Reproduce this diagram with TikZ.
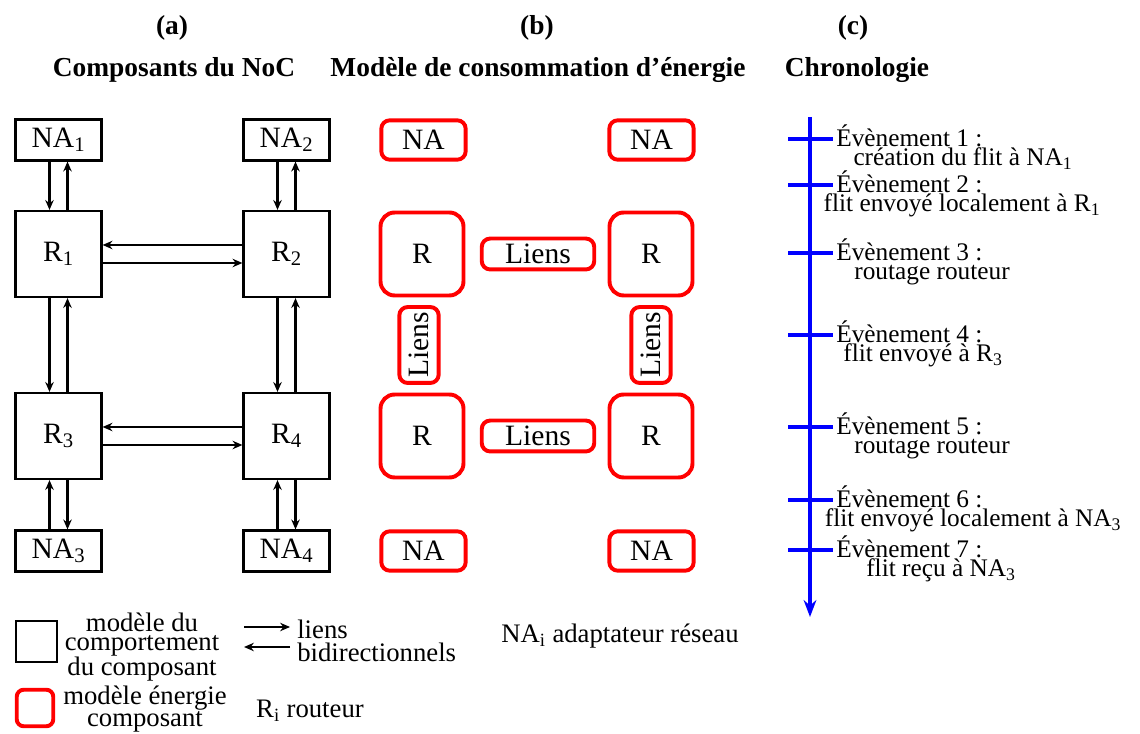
\documentclass[tikz,border=0pt]{standalone}
\usepackage{fontspec}
\setmainfont{Liberation Serif}
\usetikzlibrary{arrows.meta}

\begin{document}
\def\px{0.7113pt}
\begin{tikzpicture}[x=0.025cm,y=-0.025cm,>={Stealth[length=7pt,width=6pt]},
	nabox/.style={draw,line width=1.7pt,minimum width=61pt,minimum height=29pt,inner sep=0pt,font=\fontsize{21}{22}\selectfont},
	rbox/.style={draw,line width=1.7pt,minimum size=61pt,inner sep=0pt,font=\fontsize{21}{22}\selectfont},
	ebox/.style={draw=red,line width=2.8pt,rounded corners=6pt,inner sep=0pt,font=\fontsize{21}{22}\selectfont},
	lien/.style={->,line width=1.6pt},
	titre/.style={font=\fontsize{19.5}{22}\selectfont\bfseries},
	evt/.style={font=\fontsize{18}{20}\selectfont,inner sep=0pt},
	leg/.style={align=center,font=\fontsize{19}{13.5}\selectfont,inner sep=0pt}]
	\useasboundingbox (0,0) rectangle (1140,734);

	% titres
	\node[titre] (ta) at (172,28) {(a)};
	\node[titre] (tb) at (537,28) {(b)};
	\node[titre] (tc) at (853,28) {(c)};
	\node[titre] (sa) at (174,70) {Composants du NoC};
	\node[titre] (sb) at (538,70) {Modèle de consommation d’énergie};
	\node[titre] (sc) at (857,70) {Chronologie};

	% (a) composants
	\node[nabox] (na1) at (58.5,140) {NA\textsubscript{1}};
	\node[nabox] (na2) at (286.5,140) {NA\textsubscript{2}};
	\node[rbox] (r1) at (58.5,254) {R\textsubscript{1}};
	\node[rbox] (r2) at (286.5,254) {R\textsubscript{2}};
	\node[rbox] (r3) at (58.5,436) {R\textsubscript{3}};
	\node[rbox] (r4) at (286.5,436) {R\textsubscript{4}};
	\node[nabox] (na3) at (58.5,551) {NA\textsubscript{3}};
	\node[nabox] (na4) at (286.5,551) {NA\textsubscript{4}};
	\foreach \a/\b/\l/\r in {na1/r1/->/<-, na2/r2/->/<-, r1/r3/->/<-, r2/r4/->/<-, r3/na3/<-/->, r4/na4/<-/->} {
		\draw[line width=1.6pt,\l] ([xshift=-9*\px]\a.south) -- ([xshift=-9*\px]\b.north);
		\draw[line width=1.6pt,\r] ([xshift=9*\px]\a.south) -- ([xshift=9*\px]\b.north);
	};
	\foreach \a/\b in {r1/r2, r3/r4} {
		\draw[line width=1.6pt,<-] ([yshift=9*\px]\a.east) -- ([yshift=9*\px]\b.west);
		\draw[line width=1.6pt,->] ([yshift=-9*\px]\a.east) -- ([yshift=-9*\px]\b.west);
	};

	% (b) energie
	\foreach \n/\x/\y in {1/423.5/140, 2/651.5/140, 3/423.5/551, 4/651.5/551}
		\node[ebox,minimum width=60pt,minimum height=28pt] (ena\n) at (\x,\y) {NA};
	\foreach \n/\x/\y in {1/422/254, 2/651/254, 3/422/436, 4/651/436}
		\node[ebox,rounded corners=10pt,minimum size=59pt] (er\n) at (\x,\y) {R};
	\node[ebox,minimum width=80pt,minimum height=22pt] (el12) at (538,254) {Liens};
	\node[ebox,minimum width=80pt,minimum height=22pt] (el34) at (538,436) {Liens};
	\node[ebox,rotate=90,minimum width=54pt,minimum height=28pt] (el13) at (419,345) {Liens};
	\node[ebox,rotate=90,minimum width=54pt,minimum height=28pt] (el24) at (651,345) {Liens};

	% (c) chronologie
	\coordinate (debut) at (810,117);
	\coordinate (fin) at (810,617);
	\draw[blue,line width=3pt,-{Stealth[length=12pt,width=9pt]}] (debut) -- (fin);
	\foreach \n/\y/\cx/\txt in {
			1/139/963/{création du flit à NA\textsubscript{1}},
			2/185/962/{flit envoyé localement à R\textsubscript{1}},
			3/253/932/{routage routeur},
			4/335/923/{flit envoyé à R\textsubscript{3}},
			5/427/932/{routage routeur},
			6/500/973/{flit envoyé localement à NA\textsubscript{3}},
			7/550/941/{flit reçu à NA\textsubscript{3}}
			} {
		\draw[blue,line width=3pt] (788,\y) -- (833,\y);
		\node[evt,anchor=base west] (ev\n) at (836,\y+8) {Évènement \n\ :};
		\node[evt,anchor=base] (dv\n) at (\cx,\y+27) {\txt};
	};

	% legende
	\node[draw,line width=1.3pt,minimum size=29pt] (lc) at (36.5,641.5) {};
	\node[leg] (lct) at (142,647) {modèle du\\comportement\\du composant};
	\node[draw=red,line width=2.8pt,rounded corners=5pt,minimum size=26pt] (le) at (35,708) {};
	\node[leg] (let) at (145,709) {modèle énergie\\composant};
	\coordinate (la1) at (244,627);
	\coordinate (la2) at (290,627);
	\coordinate (lb1) at (290,647);
	\coordinate (lb2) at (244,647);
	\draw[lien] (la1) -- (la2);
	\draw[lien] (lb1) -- (lb2);
	\node[leg,align=left,anchor=west,font=\fontsize{19}{16}\selectfont] (llt) at (297,641) {liens\\bidirectionnels};
	\node[leg] (lna) at (620,636) {NA\textsubscript{i} adaptateur réseau};
	\node[leg] (lr) at (310,711) {R\textsubscript{i} routeur};
\end{tikzpicture}
\end{document}
